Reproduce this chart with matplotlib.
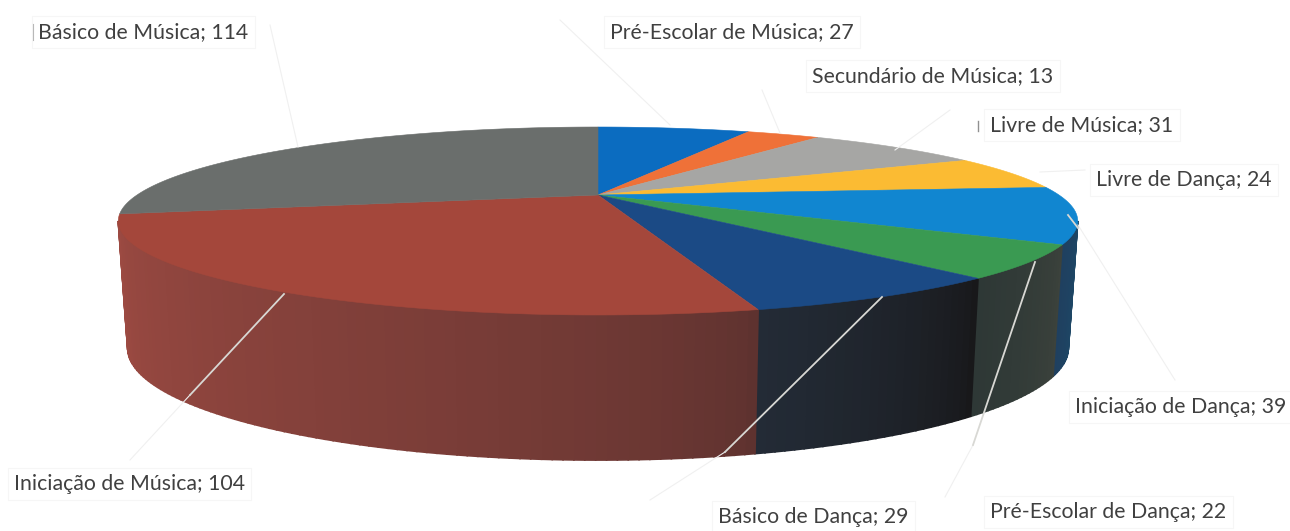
import matplotlib
matplotlib.use('Agg')
import matplotlib.pyplot as plt
from matplotlib.colors import to_rgb
import numpy as np

# Slices clockwise from 12 o'clock
categories = ['Pré-Escolar de Música', 'Secundário de Música', 'Livre de Música', 'Livre de Dança',
              'Iniciação de Dança', 'Pré-Escolar de Dança', 'Básico de Dança', 'Iniciação de Música',
              'Básico de Música']
values = [27, 13, 31, 24, 39, 22, 29, 104, 114]

top_colors = ['#0b6cc0', '#ef7138', '#a6a6a4', '#fbbb33', '#1186d0', '#3a9a52', '#1b4a85', '#a4473b', '#6a6e6c']
wall_start = ['#000000', '#000000', '#000000', '#000000', '#1d4a68', '#3c423c', '#18181a', '#5e322f', '#6a6e6c']
wall_end = ['#000000', '#000000', '#000000', '#000000', '#1f4060', '#2e3836', '#232b36', '#9c4a42', '#6a6e6c']

label_x = [610, 812, 990, 1096, 1075, 990, 718, 14, 38]
label_y = [32, 76, 125, 180, 407, 512, 517, 484, 32]

# leader lines: (x0, y0, x1, y1), the part on the pie is brighter
faint_lines = [(560, 20, 670, 125), (762, 90, 780, 133), (950, 110, 895, 150), (1085, 170, 1040, 172),
               (1078, 225, 1175, 380), (973, 445, 945, 497), (725, 452, 650, 500), (190, 395, 130, 460),
               (270, 25, 298, 147)]
bright_lines = [(1068, 215, 1078, 228), (1035, 262, 973, 445), (882, 297, 725, 452), (284, 294, 190, 395)]

# Projection of the pie's circle, in pixels
cx = 598
k = 0.2766


def project(theta, cy, rx, ry):
    X = np.sin(np.radians(theta))
    Y = np.cos(np.radians(theta))
    w = 1 + k * Y
    return cx + rx * X / w, cy - ry * Y / w


def top(theta):
    return project(theta, 195, 461, 86.8)


def bottom(theta):
    return project(theta, 317, 452, 103.5)


fig = plt.figure(figsize=(12.9, 5.31), dpi=100)
ax = fig.add_axes([0, 0, 1, 1])
ax.set_xlim(0, 1290)
ax.set_ylim(531, 0)
ax.axis('off')

edges = np.concatenate([[0], np.cumsum(values)]) * 360 / sum(values)

# Side wall, only the front part is visible
for i in range(len(values)):
    a0 = max(edges[i], 106)
    a1 = min(edges[i + 1], 254)
    if a1 <= a0:
        continue
    steps = np.linspace(a0, a1, int(a1 - a0) + 2)
    c0 = np.array(to_rgb(wall_start[i]))
    c1 = np.array(to_rgb(wall_end[i]))
    for j in range(len(steps) - 1):
        pair = steps[j:j + 2]
        tx, ty = top(pair)
        bx, by = bottom(pair)
        col = c0 + (c1 - c0) * (j / (len(steps) - 2)) ** 0.7
        ax.fill(np.r_[tx, bx[::-1]], np.r_[ty, by[::-1]], color=col, lw=1.2, zorder=1)

# Top face
for i in range(len(values)):
    theta = np.linspace(edges[i], edges[i + 1], 120)
    x, y = top(theta)
    ax.fill(np.r_[cx, x], np.r_[195, y], color=top_colors[i], lw=0.4, zorder=2)

for x0, y0, x1, y1 in faint_lines:
    ax.plot([x0, x1], [y0, y1], color='#f0f0f0', lw=0.8, zorder=3)
for x0, y0, x1, y1 in bright_lines:
    ax.plot([x0, x1], [y0, y1], color='#d8d8d4', lw=1.3, zorder=4)

for name, val, x, y in zip(categories, values, label_x, label_y):
    ax.text(x, y, f'{name}; {val}', family='Lato', fontsize=15.3, color='#404040', va='center', ha='left',
            zorder=5, bbox=dict(boxstyle='square,pad=0.3', fc='white', ec='#f6f6f6', lw=0.8))

# scan marks next to two of the labels
ax.plot([33, 33], [24, 40], color='#b8b8b8', lw=0.8, zorder=6)
ax.plot([978, 978], [121, 131], color='#909090', lw=1, zorder=6)

fig.savefig('out.png', dpi=100)
